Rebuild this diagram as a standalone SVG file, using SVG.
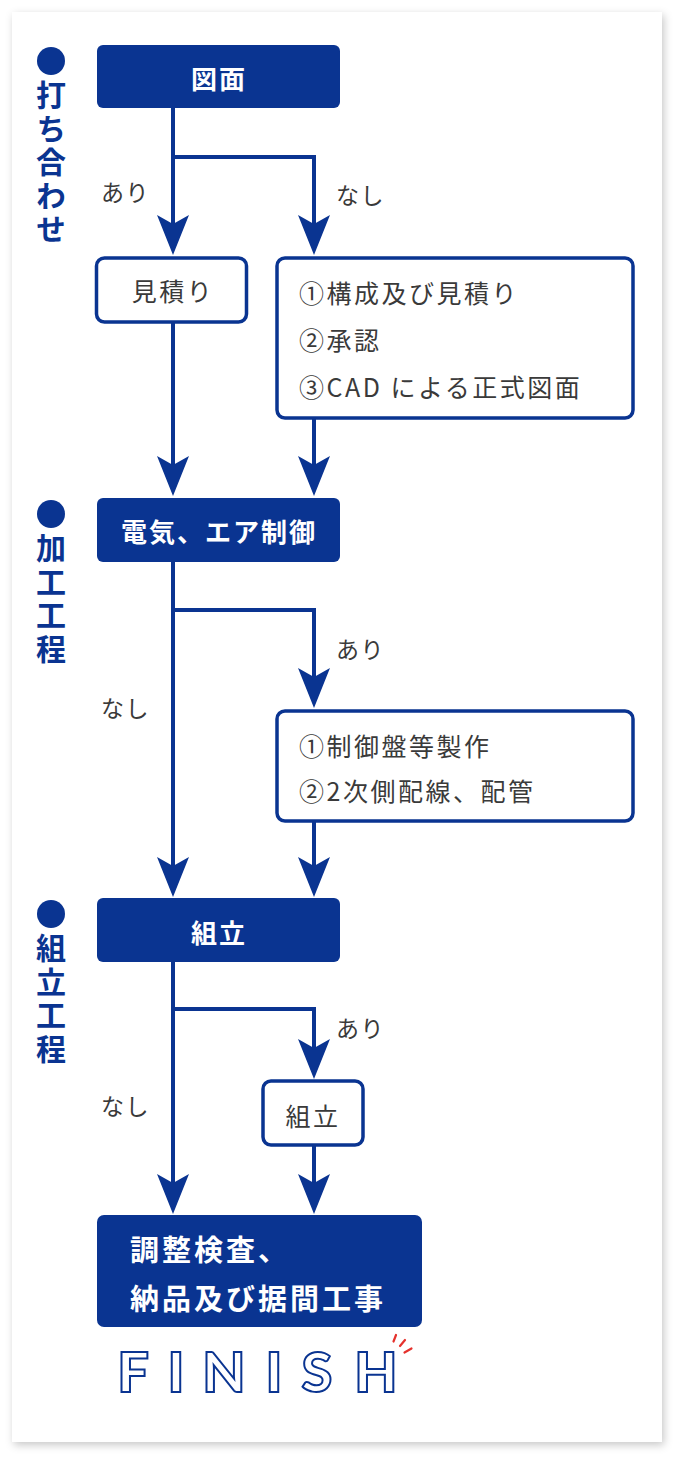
<svg xmlns="http://www.w3.org/2000/svg" width="678" height="1458" viewBox="0 0 678 1458">
<style>
.card{fill:#fff}
.fill{fill:#0a3491}
.outl{fill:#fff;stroke:#0a3491;stroke-width:3.5}
.wt{fill:#fff;font-family:"Noto Sans CJK JP","Noto Sans",sans-serif;font-weight:700;font-size:26px;letter-spacing:2px;dominant-baseline:central}
.wt2{fill:#fff;font-family:"Noto Sans CJK JP","Noto Sans",sans-serif;font-weight:700;font-size:29px;letter-spacing:3px;dominant-baseline:central}
.dt{fill:#3a3a3a;font-family:"Noto Sans CJK JP","Noto Sans",sans-serif;font-size:25px;letter-spacing:2.5px;dominant-baseline:central}
.lb{fill:#3a3a3a;font-family:"Noto Sans CJK JP","Noto Sans",sans-serif;font-size:23px;letter-spacing:1.5px;dominant-baseline:central}
.sec{fill:#0a3491;font-family:"Noto Sans CJK JP","Noto Sans",sans-serif;font-weight:700;font-size:30px;writing-mode:vertical-rl;letter-spacing:3.5px}
.ln{fill:none;stroke:#0a3491;stroke-width:4;marker-end:url(#ah)}
.fin{fill:#fff;stroke:#0a3491;stroke-width:2;font-family:Lato,"Liberation Sans",sans-serif;font-weight:900;font-size:56px;text-anchor:middle}
.red{stroke:#e5322d;stroke-width:2.2;stroke-linecap:round}
</style>
<defs>
<filter id="sh" x="-5%" y="-5%" width="110%" height="110%">
<feDropShadow dx="2" dy="3" stdDeviation="4" flood-color="#000" flood-opacity="0.22"/>
</filter>
<marker id="ah" markerUnits="userSpaceOnUse" viewBox="-10 -17 42 34" markerWidth="42" markerHeight="34" refX="0" refY="0" orient="auto">
<path d="M31,0 L-9,-16 L0,0 L-9,16 Z" fill="#0a3491"/>
</marker>
</defs>
<rect x="0" y="0" width="678" height="1458" fill="#fff"/>
<rect class="card" x="12" y="12" width="650" height="1430" filter="url(#sh)"/>

<g id="section1">
<circle cx="51" cy="61" r="14" fill="#0a3491"/>
<text class="sec" x="51" y="80">打ち合わせ</text>
</g>
<g id="section2">
<circle cx="51" cy="514" r="14" fill="#0a3491"/>
<text class="sec" x="51" y="533">加工工程</text>
</g>
<g id="section3">
<circle cx="51" cy="914" r="14" fill="#0a3491"/>
<text class="sec" x="51" y="933">組立工程</text>
</g>

<g id="connectors">
<path class="ln" d="M173 108 V224"/>
<path class="ln" d="M173 157 H314 V224"/>
<path class="ln" d="M173 322 V465"/>
<path class="ln" d="M314 419 V465"/>
<path class="ln" d="M173 562 V866"/>
<path class="ln" d="M173 610 H314 V677"/>
<path class="ln" d="M314 821 V866"/>
<path class="ln" d="M173 962 V1183"/>
<path class="ln" d="M173 1009 H314 V1048"/>
<path class="ln" d="M314 1145 V1183"/>
<text class="lb" x="101" y="191">あり</text>
<text class="lb" x="336" y="194">なし</text>
<text class="lb" x="336" y="648">あり</text>
<text class="lb" x="101" y="707">なし</text>
<text class="lb" x="336" y="1027">あり</text>
<text class="lb" x="101" y="1105">なし</text>
</g>

<g id="node-zumen">
<rect class="fill" x="97" y="45" width="243" height="63" rx="6"/>
<text class="wt" x="219" y="77" text-anchor="middle">図面</text>
</g>
<g id="node-mitsumori">
<rect class="outl" x="96.5" y="258" width="150" height="64" rx="8"/>
<text class="dt" x="173" y="290" text-anchor="middle">見積り</text>
</g>
<g id="node-kousei">
<rect class="outl" x="277" y="258" width="356" height="160" rx="8"/>
<text class="dt" x="299" y="292">①構成及び見積り</text>
<text class="dt" x="299" y="339">②承認</text>
<text class="dt" x="299" y="386">③CAD による正式図面</text>
</g>
<g id="node-denki">
<rect class="fill" x="97" y="498" width="243" height="64" rx="6"/>
<text class="wt" x="219" y="530" text-anchor="middle">電気、エア制御</text>
</g>
<g id="node-seisaku">
<rect class="outl" x="277" y="711" width="356" height="110" rx="8"/>
<text class="dt" x="299" y="745">①制御盤等製作</text>
<text class="dt" x="299" y="790">②2次側配線、配管</text>
</g>
<g id="node-kumitate">
<rect class="fill" x="97" y="898" width="243" height="64" rx="6"/>
<text class="wt" x="219" y="931" text-anchor="middle">組立</text>
</g>
<g id="node-kumitate2">
<rect class="outl" x="263" y="1081" width="100" height="64" rx="8"/>
<text class="dt" x="313" y="1115" text-anchor="middle">組立</text>
</g>
<g id="node-final">
<rect class="fill" x="97" y="1215" width="325" height="112" rx="7"/>
<text class="wt2" x="130" y="1248">調整検査、</text>
<text class="wt2" x="130" y="1297">納品及び据間工事</text>
</g>
<g id="finish">
<text class="fin" x="133" y="1392">F</text>
<text class="fin" x="176" y="1392">I</text>
<text class="fin" x="224" y="1392">N</text>
<text class="fin" x="274" y="1392">I</text>
<text class="fin" x="317" y="1392">S</text>
<text class="fin" x="376" y="1392">H</text>
<line class="red" x1="393.5" y1="1341.5" x2="396" y2="1335"/>
<line class="red" x1="400" y1="1346" x2="405" y2="1340"/>
<line class="red" x1="404.5" y1="1352.5" x2="411.5" y2="1348.5"/>
</g>
</svg>
